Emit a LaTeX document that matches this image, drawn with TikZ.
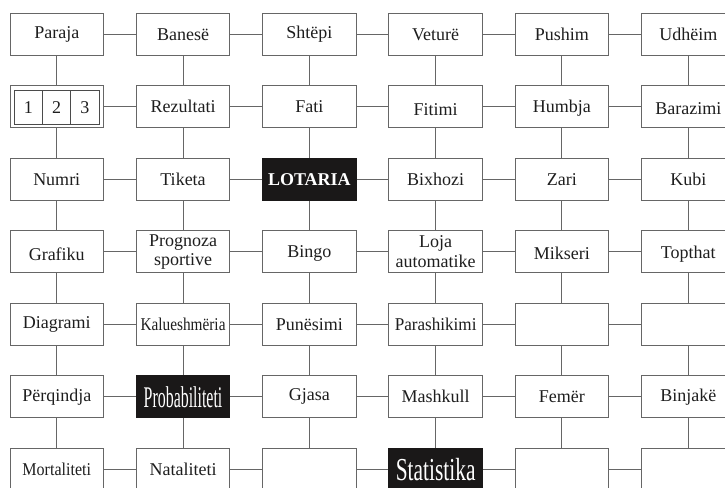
\documentclass[tikz,border=0pt]{standalone}
\usepackage{fontspec}
\setmainfont{Liberation Serif}
\definecolor{boxgray}{HTML}{666666}
\definecolor{txtcol}{HTML}{1E1E1E}
\definecolor{darkfill}{HTML}{1A1818}
\newcommand{\lowr}[2]{\raisebox{-#1}[\height][\depth]{#2}}
\begin{document}
\begin{tikzpicture}[x=1pt,y=-1pt,
  cell/.style={draw=boxgray, line width=1pt, fill=white, minimum width=93.5pt, minimum height=42pt,
    inner sep=0pt, align=center, text=txtcol, font=\fontsize{18}{20}\selectfont},
  darkcell/.style={cell, draw=darkfill, fill=darkfill, text=white},
  digit/.style={draw=txtcol!80, line width=0.9pt, minimum width=28.23pt, minimum height=34.3pt,
    inner sep=0pt, text=txtcol, font=\fontsize{18}{20}\selectfont},
  link/.style={draw=boxgray, line width=1pt}]
\useasboundingbox (0,0) rectangle (725,487);
\clip (0,0) rectangle (725,487);
% column x: 56.75 + 126.3 i ; row y: 34.3 + 72.5 j
% row 1
\node[cell] (n11) at (56.75,34.3) {Paraja};
\node[cell] (n12) at (183.05,34.3) {Banesë};
\node[cell] (n13) at (309.35,34.3) {Shtëpi};
\node[cell] (n14) at (435.65,34.3) {Veturë};
\node[cell] (n15) at (561.95,34.3) {Pushim};
\node[cell] (n16) at (688.25,34.3) {Udhëim};
% row 2
\node[cell] (n21) at (56.75,106.8) {};
\node[cell] (n22) at (183.05,106.8) {Rezultati};
\node[cell] (n23) at (309.35,106.8) {Fati};
\node[cell] (n24) at (435.65,106.8) {\lowr{3pt}{Fitimi}};
\node[cell] (n25) at (561.95,106.8) {\lowr{1.5pt}{Humbja}};
\node[cell] (n26) at (688.25,106.8) {\lowr{1.5pt}{Barazimi}};
\node[digit] (d1) at (28.47,107.15) {1};
\node[digit] (d2) at (56.7,107.15) {2};
\node[digit] (d3) at (84.93,107.15) {3};
% row 3
\node[cell] (n31) at (56.75,179.3) {Numri};
\node[cell] (n32) at (183.05,179.3) {Tiketa};
\node[darkcell, font=\fontsize{18}{20}\selectfont\bfseries] (n33) at (309.35,179.3) {LOTARIA};
\node[cell] (n34) at (435.65,179.3) {Bixhozi};
\node[cell] (n35) at (561.95,179.3) {Zari};
\node[cell] (n36) at (688.25,179.3) {Kubi};
% row 4
\node[cell] (n41) at (56.75,251.8) {\lowr{2pt}{Grafiku}};
\node[cell, font=\fontsize{18}{19.5}\selectfont] (n42) at (183.05,251.8) {Prognoza\\sportive};
\node[cell] (n43) at (309.35,251.8) {\lowr{2pt}{Bingo}};
\node[cell, font=\fontsize{18}{19.5}\selectfont] (n44) at (435.65,251.8) {Loja\\automatike};
\node[cell] (n45) at (561.95,251.8) {\lowr{2pt}{Mikseri}};
\node[cell] (n46) at (688.25,251.8) {\lowr{2pt}{Topthat}};
% row 5
\node[cell] (n51) at (56.75,324.3) {Diagrami};
\node[cell] (n52) at (183.05,324.3) {\scalebox{0.85}[1]{Kalueshmëria}};
\node[cell] (n53) at (309.35,324.3) {Punësimi};
\node[cell] (n54) at (435.65,324.3) {\scalebox{0.95}[1]{Parashikimi}};
\node[cell] (n55) at (561.95,324.3) {};
\node[cell] (n56) at (688.25,324.3) {};
% row 6
\node[cell] (n61) at (56.75,396.8) {Përqindja};
\node[darkcell, font=\fontsize{30}{32}\selectfont] (n62) at (183.05,396.8) {\scalebox{0.53}[1]{Probabiliteti}};
\node[cell] (n63) at (309.35,396.8) {Gjasa};
\node[cell] (n64) at (435.65,396.8) {Mashkull};
\node[cell] (n65) at (561.95,396.8) {Femër};
\node[cell] (n66) at (688.25,396.8) {Binjakë};
% row 7
\node[cell] (n71) at (56.75,469.3) {\scalebox{0.89}[1]{Mortaliteti}};
\node[cell] (n72) at (183.05,469.3) {Nataliteti};
\node[cell] (n73) at (309.35,469.3) {};
\node[darkcell, font=\fontsize{32}{34}\selectfont] (n74) at (435.65,469.3) {\scalebox{0.67}[1]{Statistika}};
\node[cell] (n75) at (561.95,469.3) {};
\node[cell] (n76) at (688.25,469.3) {};
% connectors
\foreach \r in {1,...,7}{
  \foreach \c [evaluate=\c as \d using int(\c+1)] in {1,...,5}{
    \draw[link] (n\r\c.east) -- (n\r\d.west);
  }
}
\foreach \c in {1,...,6}{
  \foreach \r [evaluate=\r as \s using int(\r+1)] in {1,...,6}{
    \draw[link] (n\r\c.south) -- (n\s\c.north);
  }
}
\end{tikzpicture}
\end{document}
